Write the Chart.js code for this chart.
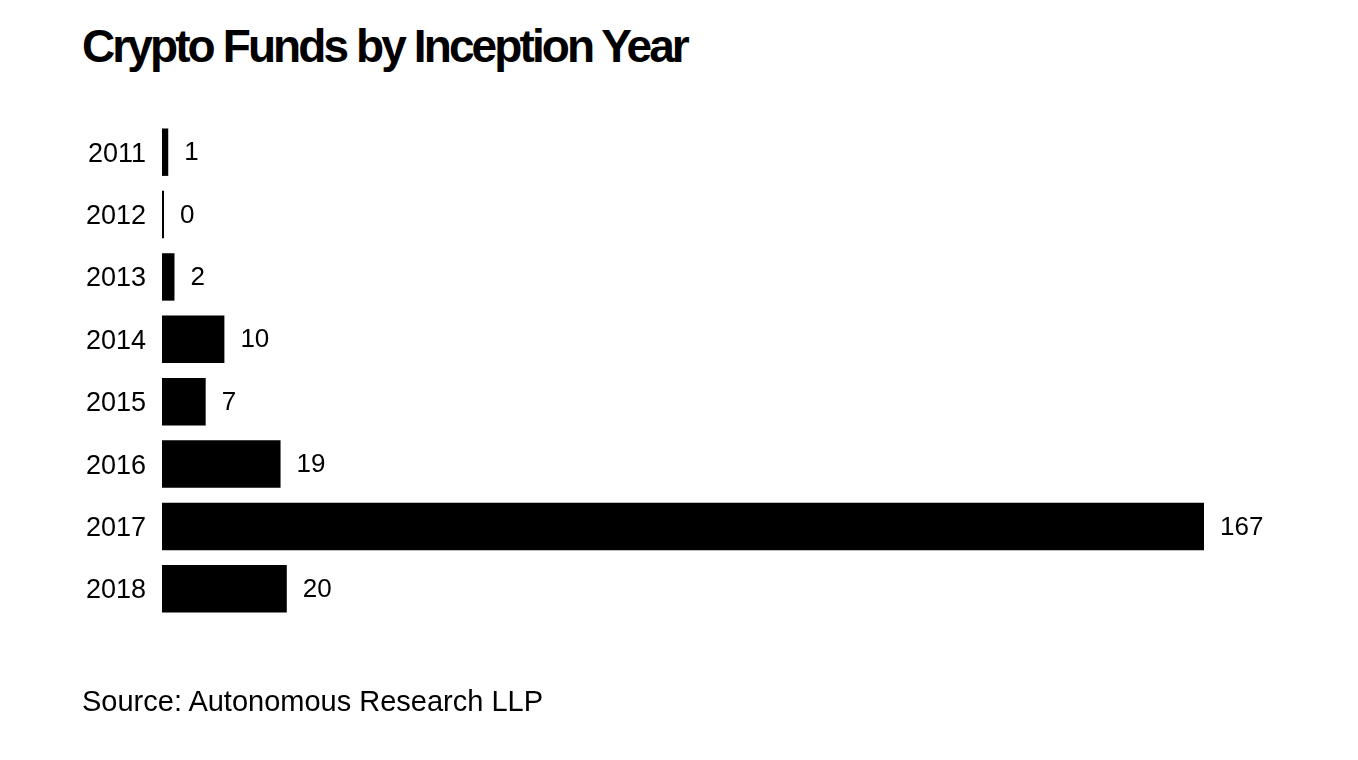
<!DOCTYPE html>
<html>
<head>
<meta charset="utf-8">
<script src="https://cdn.jsdelivr.net/npm/chart.js@4.4.1/dist/chart.umd.min.js"></script>
<style>
    html, body { margin: 0; padding: 0; background: #fff; }
    body { width: 1358px; height: 760px; position: relative; overflow: hidden; font-family: "Liberation Sans", Arial, sans-serif; color: #000; }
    #title { position: absolute; left: 82px; top: 23px; font-size: 46px; line-height: 46px; font-weight: bold; letter-spacing: -2.9px; white-space: nowrap; }
    #source { position: absolute; left: 82px; top: 687px; font-size: 29px; line-height: 29px; white-space: nowrap; }
    #wrap { position: absolute; left: 0; top: 0; width: 1358px; height: 760px; }
</style>
</head>
<body>
<div id="title">Crypto Funds by Inception Year</div>
<div id="wrap"><canvas id="chart"></canvas></div>
<div id="source">Source: Autonomous Research LLP</div>
<script>
// данные
const years = ['2011', '2012', '2013', '2014', '2015', '2016', '2017', '2018'];
const fundCounts = [1, 0, 2, 10, 7, 19, 167, 20];

const LABEL_FONT = '26px "Liberation Sans", Arial, sans-serif';

// подписи значений справа от столбцов
const valueLabels = {
    id: 'valueLabels',
    afterDatasetsDraw(chart) {
        const ctx = chart.ctx;
        const meta = chart.getDatasetMeta(0);
        ctx.save();
        ctx.font = LABEL_FONT;
        ctx.fillStyle = '#000';
        ctx.textAlign = 'left';
        ctx.textBaseline = 'middle';
        meta.data.forEach((bar, i) => {
            ctx.fillText(String(fundCounts[i]), bar.x + 16, bar.y + 1);
        });
        ctx.restore();
    }
};

new Chart(document.getElementById('chart'), {
    type: 'bar',
    data: {
        labels: years,
        datasets: [{
            data: fundCounts,
            backgroundColor: '#000',
            borderWidth: 0,
            barPercentage: 0.76,
            categoryPercentage: 1,
            minBarLength: 2
        }]
    },
    options: {
        indexAxis: 'y',
        responsive: true,
        maintainAspectRatio: false,
        animation: false,
        layout: { padding: { left: 0, right: 154, top: 121, bottom: 140 } },
        plugins: {
            legend: { display: false },
            tooltip: { enabled: false }
        },
        scales: {
            x: { display: false, min: 0, max: 167 },
            y: {
                grid: { display: false, drawTicks: false },
                border: { display: false },
                ticks: { color: '#000', padding: 16, labelOffset: 2, font: { family: '"Liberation Sans", Arial, sans-serif', size: 27 } },
                afterFit(scale) { scale.width = 162; }
            }
        }
    },
    plugins: [valueLabels]
});
</script>
</body>
</html>
